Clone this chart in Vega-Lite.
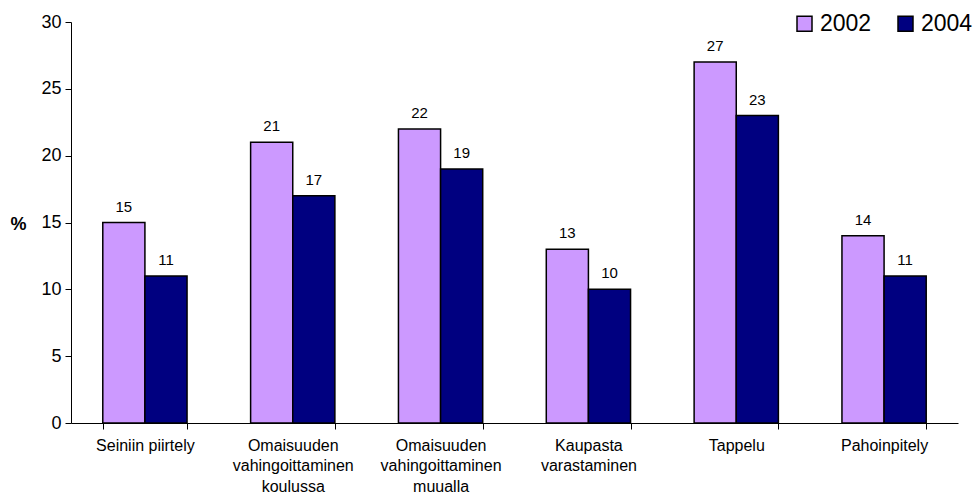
{
  "$schema": "https://vega.github.io/schema/vega-lite/v6.json",
  "width": 887,
  "height": 401,
  "autosize": {"type": "none"},
  "padding": {"left": 71, "top": 22, "right": 16, "bottom": 72},
  "background": "white",
  "config": {"view": {"stroke": null}, "font": "Liberation Sans"},
  "data": {"values": [
    {"cat": "Seiniin piirtely", "year": "2002", "v": 15},
    {"cat": "Seiniin piirtely", "year": "2004", "v": 11},
    {"cat": "Omaisuuden|vahingoittaminen|koulussa", "year": "2002", "v": 21},
    {"cat": "Omaisuuden|vahingoittaminen|koulussa", "year": "2004", "v": 17},
    {"cat": "Omaisuuden|vahingoittaminen|muualla", "year": "2002", "v": 22},
    {"cat": "Omaisuuden|vahingoittaminen|muualla", "year": "2004", "v": 19},
    {"cat": "Kaupasta|varastaminen", "year": "2002", "v": 13},
    {"cat": "Kaupasta|varastaminen", "year": "2004", "v": 10},
    {"cat": "Tappelu", "year": "2002", "v": 27},
    {"cat": "Tappelu", "year": "2004", "v": 23},
    {"cat": "Pahoinpitely", "year": "2002", "v": 14},
    {"cat": "Pahoinpitely", "year": "2004", "v": 11}
  ]},
  "encoding": {
    "x": {"field": "cat", "type": "nominal", "sort": null,
      "scale": {"paddingInner": 0.43, "paddingOuter": 0.215},
      "axis": {"title": null, "labelAngle": 0, "labelExpr": "split(datum.label, '|')",
        "labelFontSize": 16, "labelLineHeight": 20.5, "labelColor": "black", "labelPadding": 8,
        "tickBand": "extent", "tickSize": 6, "tickColor": "black", "domainColor": "black", "labelBaseline": "top"}},
    "xOffset": {"field": "year", "type": "nominal"},
    "y": {"field": "v", "type": "quantitative",
      "scale": {"domain": [0, 30], "nice": false},
      "axis": {"title": "%", "titleAngle": 0, "titleFontWeight": "bold", "titleFontSize": 18,
        "titleX": -61, "titleY": 202, "titleAlign": "left", "titleBaseline": "middle",
        "values": [0, 5, 10, 15, 20, 25, 30], "grid": false, "labelFontSize": 18, "labelColor": "black",
        "tickColor": "black", "domainColor": "black", "tickSize": 6, "labelPadding": 4}}
  },
  "layer": [
    {"mark": {"type": "bar", "stroke": "black", "strokeWidth": 1.5},
     "encoding": {"color": {"field": "year", "type": "nominal",
        "scale": {"domain": ["2002", "2004"], "range": ["#CC99FF", "#000080"]},
        "legend": {"title": null, "orient": "none", "legendX": 722, "legendY": -10, "direction": "horizontal",
          "symbolType": "square", "symbolSize": 225, "symbolStrokeColor": "black", "symbolStrokeWidth": 1.5,
          "labelFontSize": 23, "labelColor": "black", "columnPadding": 22, "labelOffset": 4}}}},
    {"mark": {"type": "text", "dy": -11, "baseline": "alphabetic", "fontSize": 15, "color": "black"},
     "encoding": {"text": {"field": "v", "type": "quantitative"}}}
  ]
}
